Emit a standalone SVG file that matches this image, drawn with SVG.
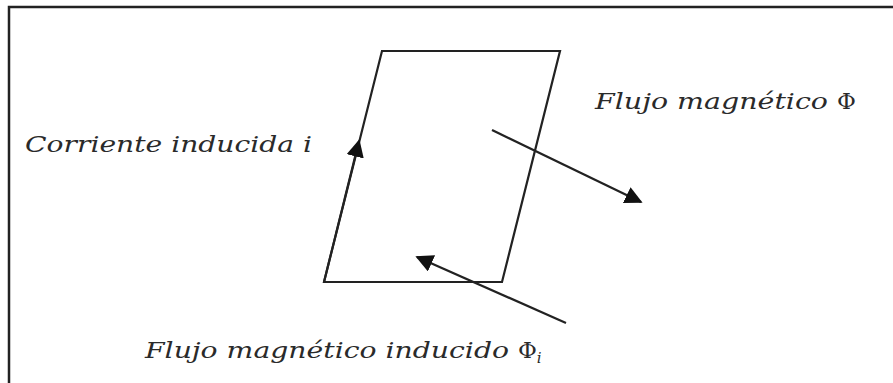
<svg xmlns="http://www.w3.org/2000/svg" width="893" height="383" viewBox="0 0 893 383">
<style>
.t{font-family:"DejaVu Serif","Liberation Serif",serif;font-style:italic;font-size:23px;fill:#2a2a2a}
.up{font-style:normal}
.ln{stroke:#222;stroke-width:2.2;fill:none}
</style>
<defs>
<marker id="ah2" viewBox="0 0 10 10" refX="9" refY="5" markerWidth="8" markerHeight="8" orient="auto" markerUnits="strokeWidth">
<path d="M0,0 L10,5 L0,10 z" fill="#111"/>
</marker>
</defs>
<rect width="893" height="383" fill="#fff"/>
<path d="M9,383 V7 H893" stroke="#222" stroke-width="2.5" fill="none"/>
<g id="loop">
<polygon class="ln" points="382,51 560,51 502,282 324,282"/>
</g>
<g id="connectors">
<line class="ln" x1="324" y1="282" x2="359" y2="141" marker-end="url(#ah2)"/>
<line class="ln" x1="492" y1="130" x2="641" y2="202" marker-end="url(#ah2)"/>
<line class="ln" x1="566" y1="323" x2="417" y2="257" marker-end="url(#ah2)"/>
</g>
<g id="label-i">
<text class="t" x="25" y="152" textLength="287" lengthAdjust="spacingAndGlyphs">Corriente inducida i</text>
</g>
<g id="label-flux">
<text class="t" x="595" y="109"><tspan textLength="242" lengthAdjust="spacingAndGlyphs">Flujo magnético </tspan><tspan class="up">Φ</tspan></text>
</g>
<g id="label-induced">
<text class="t" x="145" y="358"><tspan textLength="373" lengthAdjust="spacingAndGlyphs">Flujo magnético inducido </tspan><tspan class="up">Φ</tspan><tspan font-size="15" dy="5">i</tspan></text>
</g>
</svg>
